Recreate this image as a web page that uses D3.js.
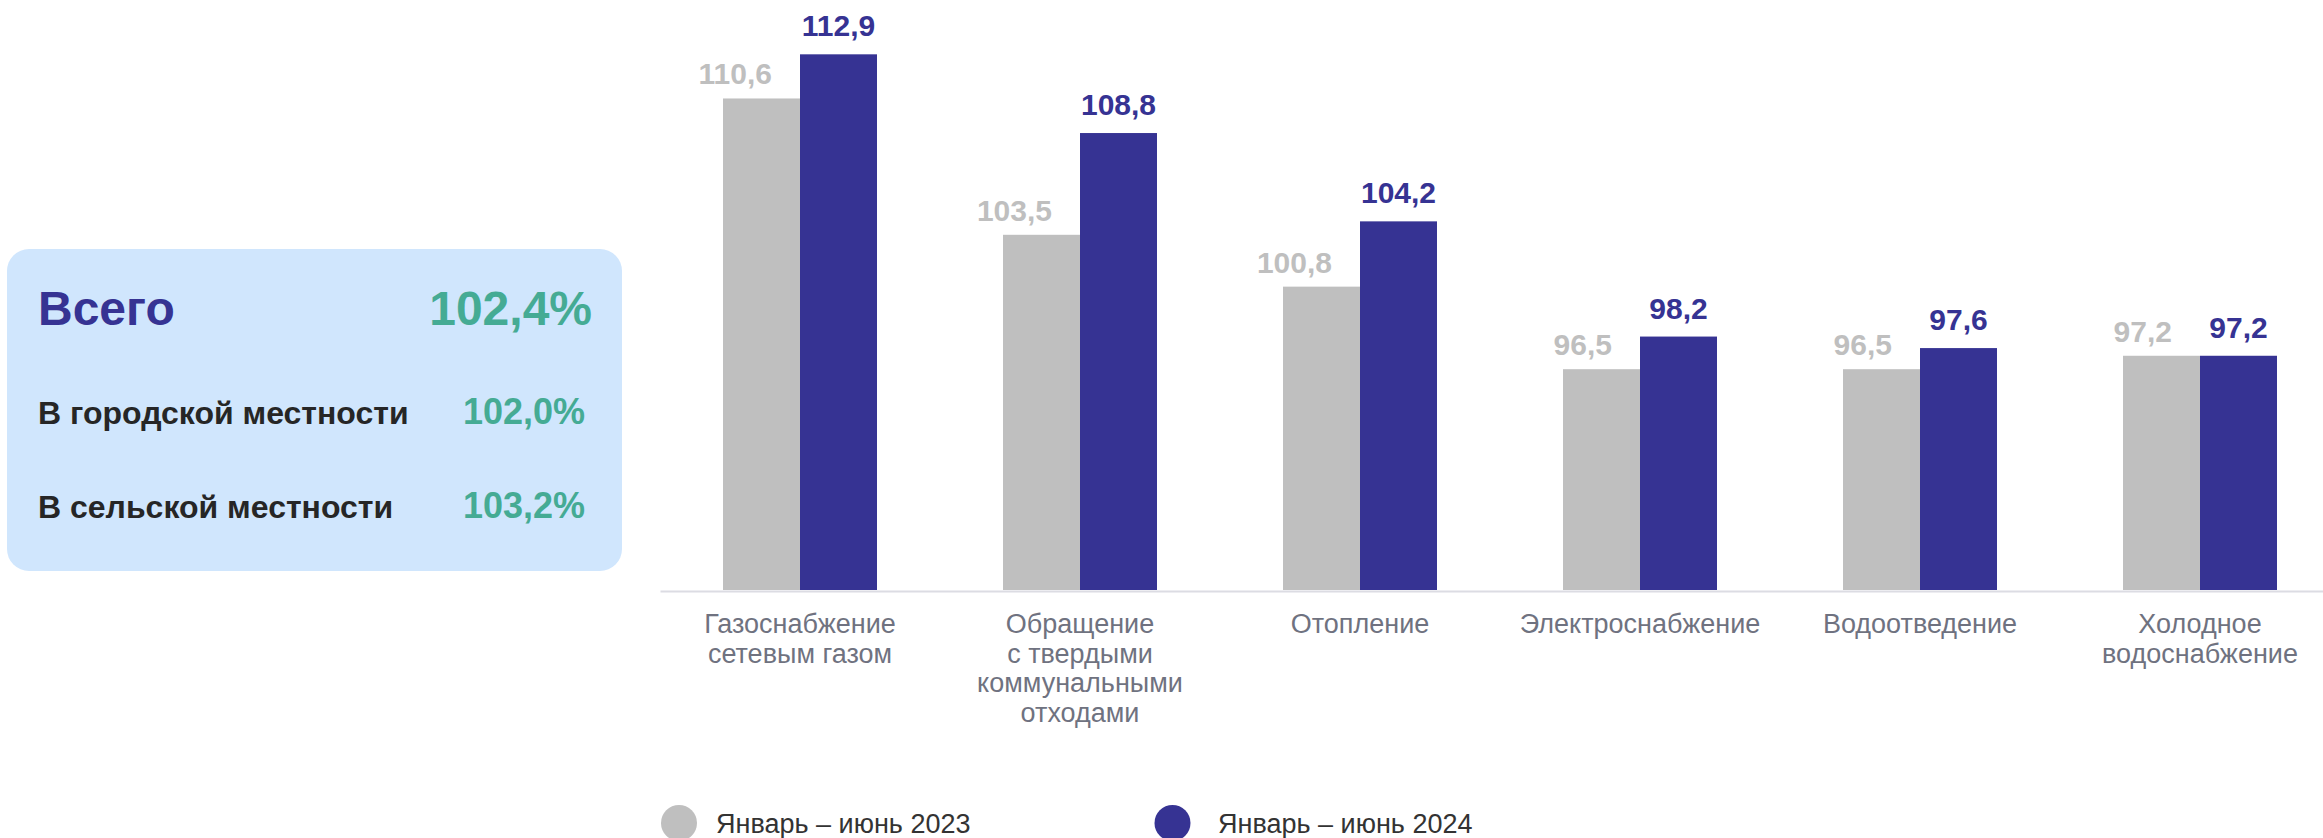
<!DOCTYPE html>
<html>
<head>
<meta charset="utf-8">
<script src="https://cdn.jsdelivr.net/npm/d3@7/dist/d3.min.js"></script>
<style>
  html, body { margin: 0; padding: 0; background: #ffffff; }
  svg { display: block; font-family: "Liberation Sans", Arial, sans-serif; }
</style>
</head>
<body>
<svg id="chart" width="2323" height="838"></svg>
<script>
// ---- data ----
const categories = [
  "Газоснабжение\nсетевым газом",
  "Обращение\nс твердыми\nкоммунальными\nотходами",
  "Отопление",
  "Электроснабжение",
  "Водоотведение",
  "Холодное\nводоснабжение"
];
const values2023 = [110.6, 103.5, 100.8, 96.5, 96.5, 97.2];
const values2024 = [112.9, 108.8, 104.2, 98.2, 97.6, 97.2];
const seriesNames = ["Январь – июнь 2023", "Январь – июнь 2024"];
const summaryLabels = ["Всего", "В городской местности", "В сельской местности"];
const summaryValues = [102.4, 102.0, 103.2];

// ---- styles ----
const colGray = "#bfbfbf";
const colBlue = "#363393";
const colTeal = "#45ab94";
const colText = "#262626";
const colAxisText = "#6f7280";
const seriesColors = [colGray, colBlue];

const fmt = v => d3.format(".1f")(v).replace(".", ",");

const svg = d3.select("#chart");

// ---- summary box ----
const box = svg.append("g");
box.append("rect")
  .attr("x", 7).attr("y", 249).attr("width", 615).attr("height", 322)
  .attr("rx", 22).attr("ry", 22)
  .attr("fill", "#d0e6fd");

const sumRows = summaryLabels.map((l, i) => ({label: l, value: summaryValues[i], i}));
const rowY = [325, 424, 518];
box.selectAll("text.slabel").data(sumRows).join("text")
  .attr("class", "slabel")
  .attr("x", 38)
  .attr("y", d => rowY[d.i])
  .attr("font-weight", "bold")
  .attr("font-size", d => d.i === 0 ? 48 : 32)
  .attr("fill", d => d.i === 0 ? colBlue : colText)
  .text(d => d.label);
box.selectAll("text.svalue").data(sumRows).join("text")
  .attr("class", "svalue")
  .attr("x", d => d.i === 0 ? 592 : 585)
  .attr("y", d => rowY[d.i])
  .attr("text-anchor", "end")
  .attr("font-weight", "bold")
  .attr("font-size", d => d.i === 0 ? 48 : 36)
  .attr("fill", colTeal)
  .text(d => fmt(d.value) + "%");

// ---- scales ----
const x0 = d3.scaleBand()
  .domain(categories)
  .range([660, 2340])
  .paddingInner(0.45)
  .paddingOuter(0.225);
const x1 = d3.scaleBand()
  .domain([0, 1])
  .range([0, x0.bandwidth()])
  .padding(0);
const y = d3.scaleLinear().domain([85, 115]).range([590, 14]);

// ---- bars ----
const groups = svg.append("g").selectAll("g").data(categories).join("g")
  .attr("transform", d => `translate(${x0(d)},0)`);

const barData = (c, i) => [
  {s: 0, v: values2023[i]},
  {s: 1, v: values2024[i]}
];
groups.each(function(c, i) {
  const g = d3.select(this);
  const bd = barData(c, i);
  g.selectAll("rect").data(bd).join("rect")
    .attr("x", d => x1(d.s))
    .attr("y", d => y(d.v))
    .attr("width", x1.bandwidth())
    .attr("height", d => y(85) - y(d.v))
    .attr("fill", d => seriesColors[d.s]);
  g.selectAll("text").data(bd).join("text")
    .attr("x", d => d.s === 0 ? x1(0) + x1.bandwidth() - 28 : x1(1) + x1.bandwidth() / 2)
    .attr("y", d => y(d.v) - (d.s === 0 ? 14 : 18))
    .attr("text-anchor", d => d.s === 0 ? "end" : "middle")
    .attr("font-weight", "bold")
    .attr("font-size", 30)
    .attr("fill", d => seriesColors[d.s])
    .text(d => fmt(d.v));
});

// ---- x axis ----
const axis = svg.append("g")
  .attr("transform", "translate(0,591)")
  .call(d3.axisBottom(x0).tickSize(0).tickSizeOuter(0));
axis.select(".domain").attr("stroke", "#dcdce3").attr("stroke-width", 2);
axis.selectAll(".tick text")
  .attr("font-family", "'Liberation Sans', Arial, sans-serif")
  .attr("font-size", 27)
  .attr("fill", colAxisText)
  .attr("y", 0).attr("dy", null)
  .each(function(d) {
    const t = d3.select(this);
    t.text(null);
    d.split("\n").forEach((line, k) => {
      t.append("tspan").attr("x", 0).attr("y", 41.7 + k * 29.8).text(line);
    });
  });

// ---- legend ----
const legX = [679, 1172.5];
const leg = svg.append("g").selectAll("g").data(seriesNames).join("g")
  .attr("transform", (d, i) => `translate(${legX[i]},823)`);
leg.append("circle").attr("r", 18).attr("fill", (d, i) => seriesColors[i]);
leg.append("text")
  .attr("x", (d, i) => i === 0 ? 37 : 45.5)
  .attr("y", 10.3)
  .attr("font-size", 27)
  .attr("fill", "#333333")
  .text(d => d);
</script>
</body>
</html>
